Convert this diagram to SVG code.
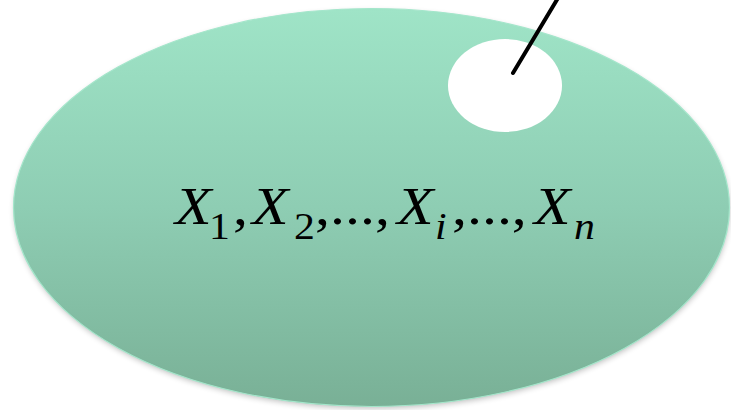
<svg xmlns="http://www.w3.org/2000/svg" width="731" height="410" viewBox="0 0 731 410">
  <defs>
    <linearGradient id="fillGrad" x1="0" y1="0" x2="0" y2="1">
      <stop offset="0" stop-color="#9fe4c7"/>
      <stop offset="0.5" stop-color="#8ecdb3"/>
      <stop offset="1" stop-color="#79b096"/>
    </linearGradient>
    <filter id="shadow" x="-10%" y="-10%" width="120%" height="130%">
      <feGaussianBlur stdDeviation="3"/>
    </filter>
    <filter id="soft" x="-10%" y="-10%" width="120%" height="120%">
      <feGaussianBlur stdDeviation="0.6"/>
    </filter>
  </defs>
  <style>
    text { font-family: "Liberation Serif", "Times New Roman", "DejaVu Serif", serif; fill: #000; }
    .it { font-style: italic; }
    .big { font-size: 53px; }
    .sub { font-size: 37px; }
  </style>

  <g id="set">
    <ellipse cx="372" cy="210" rx="357" ry="198" fill="#000" opacity="0.28" filter="url(#shadow)"/>
    <ellipse cx="371.5" cy="207.5" rx="358" ry="199" fill="url(#fillGrad)" stroke="#a4e6cb" stroke-width="1.2"/>
  </g>

  <g id="sample">
    <ellipse cx="505" cy="85.5" rx="57" ry="46.5" fill="#ffffff" filter="url(#soft)"/>
  </g>

  <g id="connectors">
    <line x1="558" y1="-2" x2="513" y2="73" stroke="#000" stroke-width="4" stroke-linecap="round"/>
  </g>

  <g id="label" transform="scale(1.13 1)" font-family="'Liberation Serif', 'Times New Roman', serif">
    <text class="big it" x="154.9" y="224">X</text>
    <text class="sub" x="185" y="239">1</text>
    <text class="big" x="206.2" y="224">,</text>
    <text class="big it" x="223" y="224">X</text>
    <text class="sub" x="260.2" y="239">2</text>
    <text class="big" x="278.8" y="224">,...,</text>
    <text class="big it" x="351.3" y="224">X</text>
    <text class="sub it" x="385" y="239">i</text>
    <text class="big" x="400" y="224">,...,</text>
    <text class="big it" x="472.6" y="224">X</text>
    <text class="sub it" x="508" y="239">n</text>
  </g>
</svg>
